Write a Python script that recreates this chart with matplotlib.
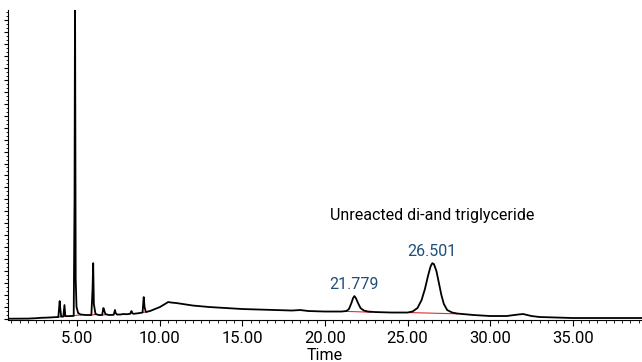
import matplotlib.pyplot as plt
from matplotlib.ticker import MultipleLocator

# Señal del cromatograma (tiempo en min, respuesta en unidades arbitrarias)
time = [0.8, 2.0, 2.5, 2.8, 3.0, 3.3, 3.6, 3.85, 3.93, 3.97, 4.02, 4.15, 4.22, 4.27,
        4.4, 4.6, 4.78, 4.83, 4.86, 4.9, 4.95, 5.05, 5.2, 5.5, 5.85, 5.92, 5.96, 6.0,
        6.1, 6.3, 6.5, 6.58, 6.62, 6.7, 6.9, 7.2, 7.28, 7.32, 7.4, 7.6, 7.8, 8.0, 8.2,
        8.28, 8.32, 8.4, 8.7, 8.95, 9.02, 9.07, 9.15, 9.4, 9.7, 10.0, 10.3, 10.5, 10.7,
        11.0, 12.0, 13.0, 14.0, 15.0, 16.0, 17.0, 18.0, 18.5, 19.0, 20.0, 21.0, 21.3,
        21.45, 21.6, 21.7, 21.78, 21.87, 22.0, 22.15, 22.35, 22.6, 23.0, 24.0, 25.0,
        25.3, 25.6, 25.85, 26.05, 26.25, 26.4, 26.5, 26.6, 26.75, 26.9, 27.05, 27.2,
        27.4, 27.7, 28.0, 29.0, 30.0, 31.0, 31.7, 32.0, 32.5, 33.0, 35.0, 39.2]
signal = [0.3, 0.4, 0.8, 1.2, 1.3, 1.5, 1.8, 2.0, 18.0, 10.0, 2.5, 2.5, 14.0, 3.0,
          2.8, 3.0, 3.2, 120.0, 330.0, 40.0, 12.0, 6.0, 4.5, 4.0, 4.0, 30.0, 56.0, 15.0,
          5.0, 4.0, 4.0, 11.0, 9.0, 5.0, 4.0, 4.2, 9.0, 6.0, 4.5, 4.5, 5.0, 4.8, 5.2,
          8.0, 6.0, 5.2, 5.8, 6.5, 22.0, 12.0, 7.0, 8.0, 10.0, 12.0, 15.0, 17.0, 16.5,
          16.0, 13.5, 12.0, 11.0, 10.0, 9.5, 9.0, 8.5, 9.0, 8.0, 7.5, 7.5, 8.0,
          10.0, 16.0, 21.0, 23.0, 21.0, 16.0, 11.0, 8.5, 7.5, 7.0, 6.5, 6.5,
          7.5, 11.0, 19.0, 30.0, 44.0, 53.0, 56.0, 55.0, 48.0, 36.0, 24.0, 15.0,
          9.0, 6.5, 5.5, 4.0, 3.0, 3.0, 4.5, 5.0, 3.0, 2.0, 1.0, 1.0]

# Líneas base de integración (t0, y0, t1, y1)
baselines = [(3.85, 2.0, 4.4, 2.8), (4.7, 3.1, 5.3, 4.4), (5.85, 4.0, 6.15, 4.6),
             (6.5, 4.0, 6.8, 4.5), (8.9, 6.4, 9.2, 7.2), (21.2, 7.7, 22.8, 6.8),
             (25.0, 6.5, 28.0, 5.2)]

peak_times = [21.779, 26.501]
peak_heights = [23.0, 56.0]

fonts = ['Roboto', 'DejaVu Sans']

fig = plt.figure(figsize=(6.42, 3.62), dpi=100)
ax = fig.add_axes([8 / 642, 42 / 362, 634 / 642, 310 / 362])

for t0, y0, t1, y1 in baselines:
    ax.plot([t0, t1], [y0, y1], color='#e03030', linewidth=0.8)
ax.plot(time, signal, color='black', linewidth=1.3)

ax.set_xlim(0.8, 39.2)
ax.set_ylim(-1, 310)

# Etiquetas de picos
for t, h in zip(peak_times, peak_heights):
    ax.text(t, h + 4, "%.3f" % t, color='#1f4e7a', fontsize=11.5,
            ha='center', va='bottom', family=fonts)

ax.text(26.5, 104, "Unreacted di-and triglyceride", fontsize=11.5, ha='center',
        va='center', family=fonts)

ax.spines['top'].set_visible(False)
ax.spines['right'].set_visible(False)
ax.xaxis.set_major_locator(MultipleLocator(5))
ax.xaxis.set_minor_locator(MultipleLocator(0.5))
ax.xaxis.set_major_formatter(lambda v, p: "%.2f" % v)
ax.yaxis.set_major_locator(MultipleLocator(12))
ax.yaxis.set_minor_locator(MultipleLocator(4))
ax.set_yticklabels([])
ax.tick_params(axis='x', which='major', length=4, labelsize=12, pad=4)
ax.tick_params(axis='x', which='minor', length=2)
ax.tick_params(axis='y', which='major', length=3)
ax.tick_params(axis='y', which='minor', length=1.5)
for lab in ax.get_xticklabels():
    lab.set_family(fonts)
ax.set_xlabel("Time", fontsize=11.5, labelpad=1, family=fonts)

fig.savefig("out.png", dpi=100)
